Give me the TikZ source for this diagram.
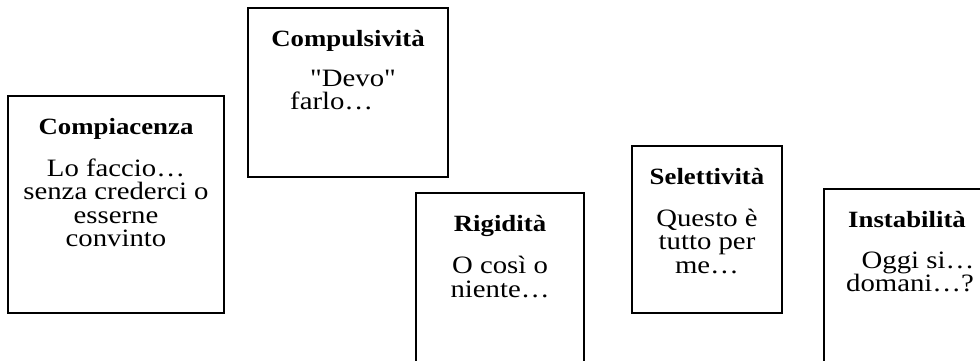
\documentclass[tikz,border=0pt]{standalone}
\usepackage{fontspec}
\setmainfont{Liberation Serif}[FakeStretch=1.15,Ligatures=TeXOff]
\begin{document}
\begin{tikzpicture}[x=1pt,y=1pt,
  frame/.style={draw=black, line width=1.6pt, rectangle, inner sep=0pt},
  ttl/.style={font=\fontsize{23.3}{26}\selectfont\bfseries, inner sep=0pt, anchor=base},
  bodyline/.style={font=\fontsize{25}{23.5}\selectfont, inner sep=0pt, anchor=base},
  bodyleft/.style={bodyline, anchor=base west}]
\useasboundingbox (0,0) rectangle (980,360);
\clip (0,0) rectangle (980,360);
% boxes
\node[frame, minimum width=216, minimum height=217] (b1) at (116,155.5) {};
\node[frame, minimum width=200, minimum height=169] (b2) at (348,267.5) {};
\node[frame, minimum width=168, minimum height=187] (b3) at (500,73.5) {};
\node[frame, minimum width=150, minimum height=167] (b4) at (707,130.5) {};
\node[frame, minimum width=171, minimum height=191] (b5) at (909.5,75.5) {};
% box 1
\node[ttl] (t1) at (116,226) {Compiacenza};
\node[bodyline] (a1) at (116,184) {Lo faccio…};
\node[bodyline] (a2) at (116,160.5) {senza crederci o};
\node[bodyline] (a3) at (116,137) {esserne};
\node[bodyline] (a4) at (116,113.5) {convinto};
% box 2
\node[ttl] (t2) at (348,314) {Compulsività};
\node[bodyleft] (c1) at (310,274) {"Devo"};
\node[bodyleft] (c2) at (290,251) {farlo…};
% box 3
\node[ttl] (t3) at (500,129) {Rigidità};
\node[bodyline] (r1) at (500,87) {O così o};
\node[bodyline] (r2) at (500,63) {niente…};
% box 4
\node[ttl] (t4) at (707,176) {Selettività};
\node[bodyline] (s1) at (707,134) {Questo è};
\node[bodyline] (s2) at (707,110.5) {tutto per};
\node[bodyline] (s3) at (707,87) {me…};
% box 5
\node[ttl] (t5) at (907,133) {Instabilità};
\node[bodyline] (i1) at (918,92) {Oggi si…};
\node[bodyline] (i2) at (910,68.5) {domani…?};
\end{tikzpicture}
\end{document}
